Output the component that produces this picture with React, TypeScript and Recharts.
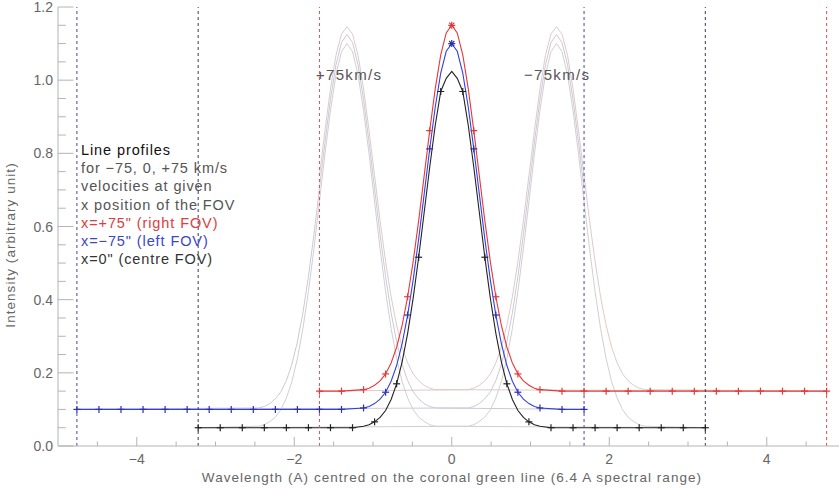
import React from "react"
import { LineChart, Line, XAxis, YAxis, ReferenceLine } from "recharts"

// wavelength offsets (A) around a line centre, core sampled every 0.07 A
const coreOffsets = [
  -1.12, -1.05, -0.98, -0.91, -0.84, -0.77, -0.7, -0.63, -0.56, -0.49, -0.42, -0.35, -0.28, -0.21, -0.14, -0.07, 0,
  0.07, 0.14, 0.21, 0.28, 0.35, 0.42, 0.49, 0.56, 0.63, 0.7, 0.77, 0.84, 0.91, 0.98, 1.05, 1.12,
]

// intensities over the core
const redCore = [
  0.154, 0.158, 0.166, 0.178, 0.197, 0.227, 0.27, 0.33, 0.408, 0.504, 0.616, 0.739, 0.862, 0.976, 1.069, 1.129, 1.15,
  1.129, 1.069, 0.976, 0.862, 0.739, 0.616, 0.504, 0.408, 0.33, 0.27, 0.227, 0.197, 0.178, 0.166, 0.158, 0.154,
]
const blueCore = [
  0.104, 0.108, 0.116, 0.128, 0.147, 0.177, 0.22, 0.28, 0.358, 0.454, 0.566, 0.689, 0.812, 0.926, 1.019, 1.079, 1.1,
  1.079, 1.019, 0.926, 0.812, 0.689, 0.566, 0.454, 0.358, 0.28, 0.22, 0.177, 0.147, 0.128, 0.116, 0.108, 0.104,
]
const blackCore = [
  0.054, 0.058, 0.066, 0.078, 0.097, 0.127, 0.17, 0.23, 0.308, 0.404, 0.516, 0.639, 0.762, 0.876, 0.969, 1.005, 1.024,
  1.005, 0.969, 0.876, 0.762, 0.639, 0.516, 0.404, 0.308, 0.23, 0.17, 0.127, 0.097, 0.078, 0.066, 0.058, 0.054,
]
// doppler shifted (+/-75 km/s) copies, grey
const redGreyCore = [
  0.154, 0.158, 0.166, 0.178, 0.197, 0.227, 0.27, 0.33, 0.408, 0.504, 0.616, 0.739, 0.862, 0.976, 1.068, 1.126, 1.146,
  1.126, 1.068, 0.976, 0.862, 0.739, 0.616, 0.504, 0.408, 0.33, 0.27, 0.227, 0.197, 0.178, 0.166, 0.158, 0.154,
]
const blueGreyCore = [
  0.104, 0.108, 0.116, 0.129, 0.148, 0.179, 0.223, 0.285, 0.364, 0.463, 0.578, 0.704, 0.83, 0.947, 1.042, 1.103, 1.125,
  1.103, 1.042, 0.947, 0.83, 0.704, 0.578, 0.463, 0.364, 0.285, 0.223, 0.179, 0.148, 0.129, 0.116, 0.108, 0.104,
]
const blackGreyCore = [
  0.054, 0.058, 0.067, 0.079, 0.099, 0.131, 0.176, 0.239, 0.321, 0.422, 0.539, 0.668, 0.798, 0.917, 1.015, 1.078, 1.1,
  1.078, 1.015, 0.917, 0.798, 0.668, 0.539, 0.422, 0.321, 0.239, 0.176, 0.131, 0.099, 0.079, 0.067, 0.058, 0.054,
]

// flat wings (continuum) sample positions
const redWingLeft = [-1.68, -1.4]
const redWingRight = [1.4, 1.68, 1.96, 2.24, 2.52, 2.8, 3.08, 3.36, 3.64, 3.92, 4.2, 4.48, 4.76]
const blueWingLeft = [-4.76, -4.48, -4.2, -3.92, -3.64, -3.36, -3.08, -2.8, -2.52, -2.24, -1.96, -1.68, -1.4]
const blueWingRight = [1.4, 1.68]
const blackWingLeft = [-3.22, -2.94, -2.66, -2.38, -2.1, -1.82, -1.54, -1.26]
const blackWingRight = [1.26, 1.54, 1.82, 2.1, 2.38, 2.66, 2.94, 3.22]

const redBase = 0.15
const blueBase = 0.1
const blackBase = 0.05
const dopplerShift = 1.33

const redRange = [-1.68, 4.76]
const blueRange = [-4.76, 1.68]
const blackRange = [-3.22, 3.22]

const xTicks = [-4.5, -4, -3.5, -3, -2.5, -2, -1.5, -1, -0.5, 0, 0.5, 1, 1.5, 2, 2.5, 3, 3.5, 4, 4.5]
const xMajor = [-4, -2, 0, 2, 4]
const yTicks = [
  0, 0.05, 0.1, 0.15, 0.2, 0.25, 0.3, 0.35, 0.4, 0.45, 0.5, 0.55, 0.6, 0.65, 0.7, 0.75, 0.8, 0.85, 0.9, 0.95, 1, 1.05,
  1.1, 1.15, 1.2,
]
const yMajor = [0, 0.2, 0.4, 0.6, 0.8, 1.0, 1.2]

const legendLines = [
  { text: "Line profiles", color: "#111" },
  { text: "for \u221275, 0, +75 km/s", color: "#555" },
  { text: "velocities at given", color: "#555" },
  { text: "x position of the FOV", color: "#555" },
  { text: 'x=+75" (right FOV)', color: "#e03c3c" },
  { text: 'x=\u221275" (left FOV)', color: "#3c46c8" },
  { text: 'x=0" (centre FOV)', color: "#333" },
]

const profile = (left: number[], core: number[], right: number[], base: number) => [
  ...left.map((x) => ({ x, y: base })),
  ...coreOffsets.map((x, i) => ({ x, y: core[i] })),
  ...right.map((x) => ({ x, y: base })),
]

const shifted = (core: number[], shift: number, base: number, range: number[]) => {
  const [from, to] = range
  const pts = coreOffsets
    .map((o, i) => ({ x: +(o + shift).toFixed(2), y: core[i] }))
    .filter((p) => p.x >= from - 1e-6 && p.x <= to + 1e-6)
  if (pts[0].x > from + 1e-6) pts.unshift({ x: from, y: base })
  if (pts[pts.length - 1].x < to - 1e-6) pts.push({ x: to, y: base })
  return pts
}

const redData = profile(redWingLeft, redCore, redWingRight, redBase)
const blueData = profile(blueWingLeft, blueCore, blueWingRight, blueBase)
const blackData = profile(blackWingLeft, blackCore, blackWingRight, blackBase)

const greySeries = [
  { data: shifted(redGreyCore, -dopplerShift, redBase, redRange), color: "#dfcaca" },
  { data: shifted(redGreyCore, dopplerShift, redBase, redRange), color: "#dfcaca" },
  { data: shifted(blueGreyCore, -dopplerShift, blueBase, blueRange), color: "#cacad8" },
  { data: shifted(blueGreyCore, dopplerShift, blueBase, blueRange), color: "#cacad8" },
  { data: shifted(blackGreyCore, -dopplerShift, blackBase, blackRange), color: "#d0d0d0" },
  { data: shifted(blackGreyCore, dopplerShift, blackBase, blackRange), color: "#d0d0d0" },
]

const axisColor = "#b4b4b4"
const textColor = "#666"
const font = "'Liberation Sans', Arial, sans-serif"

const onGrid = (x: number, offset: number) => {
  const k = (x - offset) / 0.28
  return Math.abs(k - Math.round(k)) < 0.02
}

const plusDot = (color: string, offset: number) => (props: any) => {
  const { cx, cy, payload, index } = props
  if (cx == null || !onGrid(payload.x, offset)) return <g key={`d${index}`} />
  const r = 3.5
  const star = Math.abs(payload.x) < 1e-6
  return (
    <g key={`d${index}`} stroke={color} strokeWidth={1.2}>
      <line x1={cx - r} y1={cy} x2={cx + r} y2={cy} />
      <line x1={cx} y1={cy - r} x2={cx} y2={cy + r} />
      {star && <line x1={cx - 2.6} y1={cy - 2.6} x2={cx + 2.6} y2={cy + 2.6} />}
      {star && <line x1={cx - 2.6} y1={cy + 2.6} x2={cx + 2.6} y2={cy - 2.6} />}
    </g>
  )
}

const isIn = (v: number, list: number[]) => list.some((m) => Math.abs(m - v) < 1e-6)
const fmtX = (v: number) => (v < 0 ? `\u2212${Math.abs(v)}` : `${v}`)

const BottomTick = (props: any) => {
  const { x, y, payload } = props
  const major = isIn(payload.value, xMajor)
  return (
    <g>
      <line x1={x} y1={y} x2={x} y2={y - (major ? 9 : 4.5)} stroke={axisColor} />
      {major && (
        <text x={x} y={y + 18} textAnchor="middle" fill={textColor} fontSize={14} fontFamily={font}>
          {fmtX(payload.value)}
        </text>
      )}
    </g>
  )
}

const TopTick = (props: any) => {
  const { x, y, payload } = props
  const major = isIn(payload.value, xMajor)
  return <line x1={x} y1={y} x2={x} y2={y + (major ? 9 : 4.5)} stroke={axisColor} />
}

const LeftTick = (props: any) => {
  const { x, y, payload } = props
  const major = isIn(payload.value, yMajor)
  return (
    <g>
      <line x1={x} y1={y} x2={x + (major ? 15.5 : 7.8)} y2={y} stroke={axisColor} />
      {major && (
        <text x={x - 5} y={y + 5} textAnchor="end" fill={textColor} fontSize={14} fontFamily={font}>
          {payload.value.toFixed(1)}
        </text>
      )}
    </g>
  )
}

export default function App() {
  return (
    <div
      style={{
        position: "fixed",
        left: 0,
        top: 0,
        width: 839,
        height: 488,
        overflow: "hidden",
        background: "#fff",
      }}
    >
      <LineChart width={850} height={488} margin={{ top: 7, right: 4.5, left: 0, bottom: 0 }}>
        <XAxis
          xAxisId="top"
          orientation="top"
          type="number"
          dataKey="x"
          domain={[-5, 5]}
          ticks={xTicks}
          interval={0}
          height={0}
          tickSize={0}
          tickMargin={0}
          tickLine={false}
          axisLine={{ stroke: axisColor }}
          tick={<TopTick />}
          allowDataOverflow
        />
        <XAxis
          type="number"
          dataKey="x"
          domain={[-5, 5]}
          ticks={xTicks}
          interval={0}
          height={42}
          tickSize={0}
          tickMargin={0}
          tickLine={false}
          axisLine={{ stroke: axisColor }}
          tick={<BottomTick />}
          allowDataOverflow
        />
        <YAxis
          type="number"
          domain={[0, 1.2]}
          ticks={yTicks}
          interval={0}
          width={58}
          tickSize={0}
          tickMargin={0}
          tickLine={false}
          axisLine={{ stroke: axisColor }}
          tick={<LeftTick />}
          allowDataOverflow
        />

        {greySeries.map((s, i) => (
          <Line
            key={`g${i}`}
            data={s.data}
            dataKey="y"
            type="linear"
            stroke={s.color}
            strokeWidth={1}
            dot={false}
            isAnimationActive={false}
          />
        ))}

        <Line
          data={blackData}
          dataKey="y"
          type="linear"
          stroke="#222"
          strokeWidth={1.1}
          dot={plusDot("#222", 0.14)}
          isAnimationActive={false}
        />
        <Line
          data={blueData}
          dataKey="y"
          type="linear"
          stroke="#3340e0"
          strokeWidth={1.1}
          dot={plusDot("#2a30b0", 0)}
          isAnimationActive={false}
        />
        <Line
          data={redData}
          dataKey="y"
          type="linear"
          stroke="#e63838"
          strokeWidth={1.1}
          dot={plusDot("#e63838", 0)}
          isAnimationActive={false}
        />

        <ReferenceLine x={blueRange[0]} stroke="#4444b0" strokeDasharray="3 3" />
        <ReferenceLine x={blackRange[0]} stroke="#3a3a55" strokeDasharray="3 3" />
        <ReferenceLine x={redRange[0]} stroke="#e05050" strokeDasharray="3 3" />
        <ReferenceLine x={blueRange[1]} stroke="#4444b0" strokeDasharray="3 3" />
        <ReferenceLine x={blackRange[1]} stroke="#3a3a55" strokeDasharray="3 3" />
        <ReferenceLine x={redRange[1]} stroke="#e05050" strokeDasharray="3 3" />
      </LineChart>

      <svg
        width={839}
        height={488}
        style={{ position: "absolute", left: 0, top: 0, pointerEvents: "none" }}
        fontFamily={font}
      >
        <text x={316} y={80} fontSize={15} letterSpacing={1.3} fill="#555">
          +75km/s
        </text>
        <text x={524} y={80} fontSize={15} letterSpacing={1.3} fill="#555">
          {"\u221275km/s"}
        </text>
        {legendLines.map((l, i) => (
          <text key={i} x={81} y={155 + i * 18.2} fontSize={14.5} letterSpacing={0.9} fill={l.color}>
            {l.text}
          </text>
        ))}
        <text x={452} y={482} textAnchor="middle" fontSize={13.5} letterSpacing={1.05} fill={textColor}>
          Wavelength (A) centred on the coronal green line (6.4 A spectral range)
        </text>
        <text
          x={15}
          y={245}
          textAnchor="middle"
          fontSize={13.5}
          letterSpacing={1.05}
          fill={textColor}
          transform="rotate(-90 15 245)"
        >
          Intensity (arbitrary unit)
        </text>
      </svg>
    </div>
  )
}
